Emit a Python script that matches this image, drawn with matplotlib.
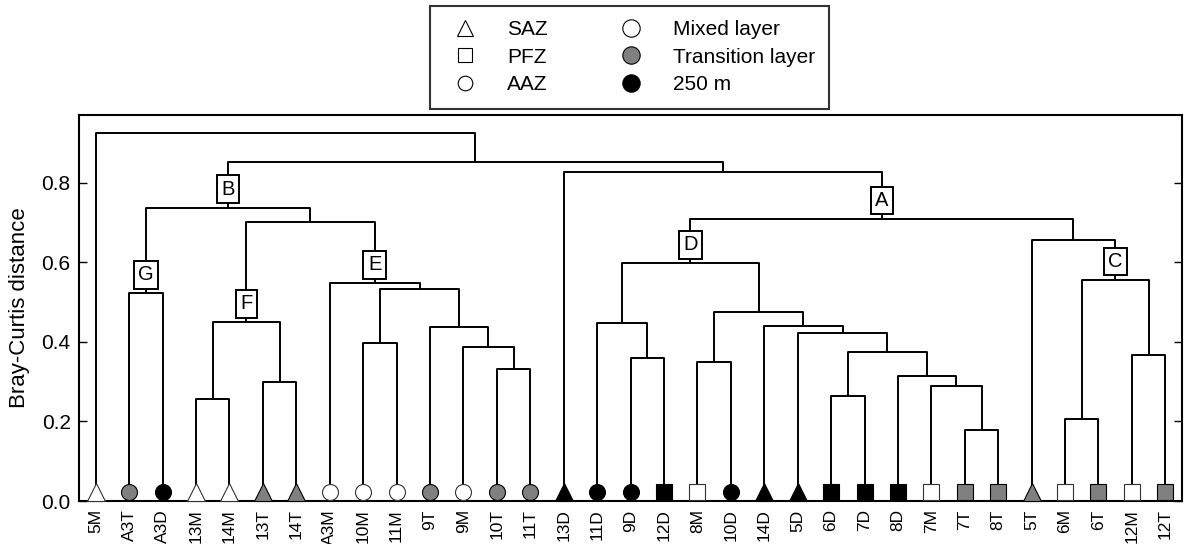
import matplotlib
matplotlib.use("Agg")
import matplotlib.pyplot as plt
from matplotlib.lines import Line2D

plt.rcParams['font.family'] = ['Liberation Sans', 'DejaVu Sans']

# leaves, left to right
leaves = ['5M', 'A3T', 'A3D', '13M', '14M', '13T', '14T', 'A3M', '10M', '11M',
          '9T', '9M', '10T', '11T', '13D', '11D', '9D', '12D', '8M', '10D',
          '14D', '5D', '6D', '7D', '8D', '7M', '7T', '8T', '5T', '6M', '6T',
          '12M', '12T']
zones = ['SAZ', 'AAZ', 'AAZ', 'SAZ', 'SAZ', 'SAZ', 'SAZ', 'AAZ', 'AAZ', 'AAZ',
         'AAZ', 'AAZ', 'AAZ', 'AAZ', 'SAZ', 'AAZ', 'AAZ', 'PFZ', 'PFZ', 'AAZ',
         'SAZ', 'SAZ', 'PFZ', 'PFZ', 'PFZ', 'PFZ', 'PFZ', 'PFZ', 'SAZ', 'PFZ',
         'PFZ', 'PFZ', 'PFZ']
layers = ['M', 'T', 'D', 'M', 'M', 'T', 'T', 'M', 'M', 'M',
          'T', 'M', 'T', 'T', 'D', 'D', 'D', 'D', 'M', 'D',
          'D', 'D', 'D', 'D', 'D', 'M', 'T', 'T', 'T', 'M',
          'T', 'M', 'T']

# merges: (name, left child, right child, Bray-Curtis height)
merges = [
    ('G', 'A3T', 'A3D', 0.523),
    ('m1314', '13M', '14M', 0.257),
    ('t1314', '13T', '14T', 0.298),
    ('F', 'm1314', 't1314', 0.450),
    ('m1011', '10M', '11M', 0.398),
    ('t1011', '10T', '11T', 0.332),
    ('v', '9M', 't1011', 0.387),
    ('w', '9T', 'v', 0.437),
    ('z', 'm1011', 'w', 0.533),
    ('E', 'A3M', 'z', 0.548),
    ('fe', 'F', 'E', 0.700),
    ('B', 'G', 'fe', 0.737),
    ('d912', '9D', '12D', 0.360),
    ('dl', '11D', 'd912', 0.447),
    ('d810', '8M', '10D', 0.350),
    ('t78', '7T', '8T', 0.179),
    ('n7', '7M', 't78', 0.288),
    ('n8', '8D', 'n7', 0.315),
    ('d67', '6D', '7D', 0.265),
    ('n6', 'd67', 'n8', 0.375),
    ('n5', '5D', 'n6', 0.422),
    ('n14', '14D', 'n5', 0.440),
    ('dr', 'd810', 'n14', 0.474),
    ('D', 'dl', 'dr', 0.598),
    ('c6', '6M', '6T', 0.205),
    ('c12', '12M', '12T', 0.366),
    ('C', 'c6', 'c12', 0.556),
    ('r', '5T', 'C', 0.657),
    ('A', 'D', 'r', 0.709),
    ('y', '13D', 'A', 0.828),
    ('x', 'B', 'y', 0.851),
    ('root', '5M', 'x', 0.926),
]
boxed = ['A', 'B', 'C', 'D', 'E', 'F', 'G']

zone_marker = {'SAZ': '^', 'PFZ': 's', 'AAZ': 'o'}
zone_size = {'SAZ': 13, 'PFZ': 11.5, 'AAZ': 11.5}
layer_color = {'M': 'white', 'T': '#808080', 'D': 'black'}

fig = plt.figure(figsize=(11.88, 5.44), dpi=100)
ax = fig.add_axes([0.0665, 0.079, 0.9285, 0.7096])

pos = {name: (i, 0.0) for i, name in enumerate(leaves)}
for name, a, b, h in merges:
    xa, ya = pos[a]
    xb, yb = pos[b]
    ax.plot([xa, xa, xb, xb], [ya, h, h, yb], color='black', lw=1.4,
            solid_capstyle='butt', zorder=2)
    pos[name] = ((xa + xb) / 2, h)

for name in boxed:
    xc, h = pos[name]
    ax.text(xc, h + 0.046, name, ha='center', va='center', fontsize=14.5,
            zorder=4, bbox=dict(boxstyle='square,pad=0.22', fc='white',
                                ec='black', lw=1.4))

for i, (z, l) in enumerate(zip(zones, layers)):
    ax.plot(i, 0.0225, marker=zone_marker[z], ms=zone_size[z], mfc=layer_color[l],
            mec='black' if l != 'M' else '#333333', mew=0.8, ls='none',
            zorder=3, clip_on=False)

ax.set_xlim(-0.5, len(leaves) - 0.5)
ax.set_ylim(0, 0.97)
ax.set_xticks(range(len(leaves)))
ax.set_xticklabels(leaves, rotation=90, fontsize=12.5)
ax.set_yticks([0.0, 0.2, 0.4, 0.6, 0.8])
ax.set_yticklabels(['0.0', '0.2', '0.4', '0.6', '0.8'])
ax.tick_params(axis='x', length=0, pad=6)
ax.tick_params(axis='y', direction='in', length=6, right=True, labelsize=15,
               width=1, pad=6)
ax.set_ylabel('Bray-Curtis distance', fontsize=16, labelpad=8)
for s in ax.spines.values():
    s.set_linewidth(1.5)

handles = [
    Line2D([], [], marker='^', ls='none', ms=12, mfc='white', mec='black', mew=0.8),
    Line2D([], [], marker='s', ls='none', ms=10.5, mfc='white', mec='black', mew=0.8),
    Line2D([], [], marker='o', ls='none', ms=10.5, mfc='white', mec='black', mew=0.8),
    Line2D([], [], marker='o', ls='none', ms=12.5, mfc='white', mec='black', mew=0.8),
    Line2D([], [], marker='o', ls='none', ms=12.5, mfc='#808080', mec='black', mew=0.8),
    Line2D([], [], marker='o', ls='none', ms=12.5, mfc='black', mec='black', mew=0.8),
]
labels = ['SAZ', 'PFZ', 'AAZ', 'Mixed layer', 'Transition layer', '250 m']
leg = fig.legend(handles, labels, ncol=2, loc='center', bbox_to_anchor=(0.530, 0.895),
                 fontsize=15, frameon=True, fancybox=False, edgecolor='black',
                 handletextpad=1.0, columnspacing=3.0, labelspacing=0.4,
                 borderpad=0.7)
leg.get_frame().set_linewidth(1.5)

fig.savefig('out.png', dpi=100)
